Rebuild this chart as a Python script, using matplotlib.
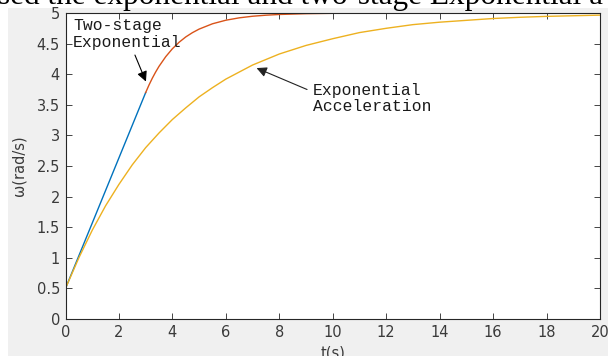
import numpy as np
import matplotlib
matplotlib.use('Agg')
import matplotlib.pyplot as plt
from matplotlib.patches import Rectangle

# values
t_lin = [0, 3]
w_lin = [0.5, 3.7]

t_two = [3.0, 3.125, 3.25, 3.375, 3.5, 3.75, 4.0, 4.25, 4.5, 4.75, 5.0,
         5.5, 6.0, 6.5, 7.0, 7.5, 8.0, 9.0, 10.0]
w_two = [3.70, 3.824, 3.936, 4.037, 4.129, 4.286, 4.416, 4.522, 4.609, 4.679, 4.737,
         4.824, 4.882, 4.921, 4.947, 4.964, 4.976, 4.989, 4.995]

t_exp = [0, 0.5, 1, 1.5, 2, 2.5, 3, 3.5, 4, 4.5, 5, 5.5, 6, 7, 8, 9, 10,
         11, 12, 13, 14, 15, 16, 17, 18, 19, 20]
w_exp = [0.50, 1.00, 1.45, 1.85, 2.20, 2.52, 2.80, 3.04, 3.26, 3.45, 3.63, 3.78, 3.92,
         4.15, 4.33, 4.47, 4.58, 4.68, 4.75, 4.81, 4.85, 4.88, 4.91, 4.93, 4.945, 4.955, 4.965]

xticks = list(range(0, 21, 2))
yticks = [0, 0.5, 1, 1.5, 2, 2.5, 3, 3.5, 4, 4.5, 5]
ytick_labels = ['0', '0.5', '1', '1.5', '2', '2.5', '3', '3.5', '4', '4.5', '5']

W, H = 608, 356
fig = plt.figure(figsize=(W / 100, H / 100), dpi=100, facecolor='white')

# grey matlab figure area
fig.patches.append(Rectangle((8 / W, 0), 1, 1 - 8 / H, transform=fig.transFigure,
                             facecolor='#f0f0f0', edgecolor='none', zorder=-10))

# cut-off line of the surrounding page text
fig.text(-2 / W, 1 - 4 / H, 'sed the exponential and two-stage Exponential a',
         fontsize=22.5, family='Liberation Serif', color='black', va='baseline', ha='left')

ax = fig.add_axes([65.5 / W, 1 - 319 / H, (600 - 65.5) / W, (319 - 13) / H])
ax.set_facecolor('white')

ax.plot(t_lin, w_lin, color='#0072BD', lw=1.0)
ax.plot(t_two, w_two, color='#D95319', lw=1.0)
ax.plot(t_exp, w_exp, color='#EDB120', lw=1.0)

ax.set_xlim(0, 20)
ax.set_ylim(0, 5)
ax.set_xticks(xticks)
ax.set_yticks(yticks)
ax.set_yticklabels(ytick_labels)
ax.tick_params(direction='in', top=True, right=True, length=4, width=0.6,
               color='#262626', labelcolor='#3a3a3a', labelsize=10.5, pad=4)
for s in ax.spines.values():
    s.set_color('#262626')
    s.set_linewidth(0.8)

ax.set_xlabel('t(s)', fontsize=10.5, color='#3a3a3a', labelpad=4)
ax.set_ylabel('ω(rad/s)', fontsize=10.5, color='#3a3a3a', labelpad=7)

mono = 'Liberation Mono'
ax.annotate('Two-stage\nExponential', xy=(3.01, 3.88), xytext=(0.28, 4.66),
            fontsize=11.8, family=mono, color='#1a1a1a', ha='left', va='center',
            linespacing=1.15,
            arrowprops=dict(arrowstyle='-|>', color='black', lw=0.8,
                            mutation_scale=15, shrinkA=2, shrinkB=0,
                            relpos=(0.55, 0.0)))
ax.annotate('Exponential\nAcceleration', xy=(7.15, 4.10), xytext=(9.26, 3.60),
            fontsize=11.8, family=mono, color='#1a1a1a', ha='left', va='center',
            linespacing=1.05,
            arrowprops=dict(arrowstyle='-|>', color='#222222', lw=0.8,
                            mutation_scale=15, shrinkA=0, shrinkB=0,
                            relpos=(-0.05, 0.8)))

fig.savefig('out.png', dpi=100, facecolor=fig.get_facecolor())
